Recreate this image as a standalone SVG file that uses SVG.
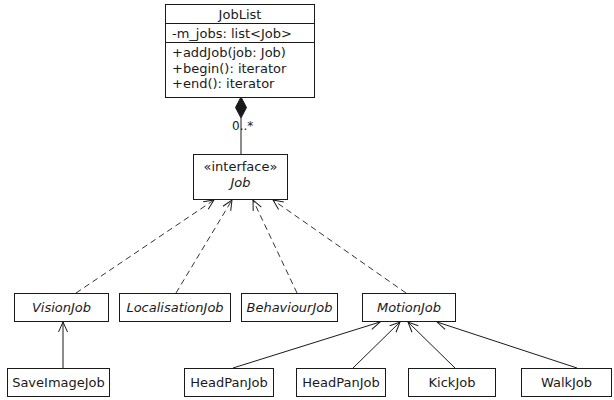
<svg xmlns="http://www.w3.org/2000/svg" width="614" height="400" viewBox="0 0 614 400">
  <style>
    .box { fill: #ffffff; stroke: #1a1a1a; stroke-width: 1; }
    .sep { stroke: #1a1a1a; stroke-width: 1; }
    text { font-family: "DejaVu Sans", "Liberation Sans", sans-serif; font-size: 13px; fill: #1a1a1a; }
    .c { text-anchor: middle; }
    .it { font-style: italic; }
    .edge { fill: none; stroke: #1a1a1a; stroke-width: 1; }
    .dash { stroke-dasharray: 6 4; stroke: #333333; }
  </style>
  <defs>
    <marker id="open" viewBox="0 0 12 12" refX="11" refY="6" markerWidth="12" markerHeight="12" markerUnits="userSpaceOnUse" orient="auto">
      <path d="M1,1.5 L11,6 L1,10.5" fill="none" stroke="#1a1a1a" stroke-width="1" stroke-dasharray="none"/>
    </marker>
  </defs>

  <!-- connectors -->
  <g id="connectors">
    <!-- composition JobList <>- Job -->
    <line class="edge" x1="241" y1="118" x2="241" y2="154"/>
    <polygon points="241,97 246.5,107.5 241,118 235.5,107.5" fill="#1a1a1a" stroke="#1a1a1a"/>
    <text x="232" y="130" style="font-size:12px">0..*</text>

    <!-- realisations of Job -->
    <line class="edge dash" x1="76" y1="293" x2="214" y2="200" marker-end="url(#open)"/>
    <line class="edge dash" x1="176" y1="293" x2="232" y2="200" marker-end="url(#open)"/>
    <line class="edge dash" x1="297" y1="293" x2="253" y2="200" marker-end="url(#open)"/>
    <line class="edge dash" x1="406" y1="293" x2="273" y2="200" marker-end="url(#open)"/>

    <!-- generalisations -->
    <line class="edge" x1="63" y1="368" x2="63" y2="322" marker-end="url(#open)"/>
    <line class="edge" x1="233" y1="368" x2="380" y2="322" marker-end="url(#open)"/>
    <line class="edge" x1="353" y1="368" x2="400" y2="322" marker-end="url(#open)"/>
    <line class="edge" x1="455" y1="368" x2="408" y2="322" marker-end="url(#open)"/>
    <line class="edge" x1="577" y1="368" x2="437" y2="322" marker-end="url(#open)"/>
  </g>

  <!-- JobList class -->
  <g id="JobList">
    <rect class="box" x="165.5" y="4.5" width="149" height="93"/>
    <line class="sep" x1="165.5" y1="23.5" x2="314.5" y2="23.5"/>
    <line class="sep" x1="165.5" y1="42.5" x2="314.5" y2="42.5"/>
    <text class="c" x="240" y="18.5">JobList</text>
    <text x="172" y="37.5">-m_jobs: list&lt;Job&gt;</text>
    <text x="172" y="57">+addJob(job: Job)</text>
    <text x="172" y="72.5">+begin(): iterator</text>
    <text x="172" y="88">+end(): iterator</text>
  </g>

  <!-- Job interface -->
  <g id="Job">
    <rect class="box" x="193.5" y="154.5" width="94" height="45"/>
    <text class="c" x="240.5" y="170.5">«interface»</text>
    <text class="c it" x="240.5" y="187">Job</text>
  </g>

  <!-- second row -->
  <g id="VisionJob">
    <rect class="box" x="14.5" y="293.5" width="94" height="28"/>
    <text class="c it" x="61.5" y="312">VisionJob</text>
  </g>
  <g id="LocalisationJob">
    <rect class="box" x="119.5" y="293.5" width="111" height="28"/>
    <text class="c it" x="175" y="312">LocalisationJob</text>
  </g>
  <g id="BehaviourJob">
    <rect class="box" x="241.5" y="293.5" width="96" height="28"/>
    <text class="c it" x="289.5" y="312">BehaviourJob</text>
  </g>
  <g id="MotionJob">
    <rect class="box" x="362.5" y="293.5" width="93" height="28"/>
    <text class="c it" x="409" y="312">MotionJob</text>
  </g>

  <!-- third row -->
  <g id="SaveImageJob">
    <rect class="box" x="7.5" y="368.5" width="102" height="28"/>
    <text class="c" x="58.5" y="387">SaveImageJob</text>
  </g>
  <g id="HeadPanJob1">
    <rect class="box" x="184.5" y="368.5" width="89" height="28"/>
    <text class="c" x="229" y="387">HeadPanJob</text>
  </g>
  <g id="HeadPanJob2">
    <rect class="box" x="296.5" y="368.5" width="89" height="28"/>
    <text class="c" x="341" y="387">HeadPanJob</text>
  </g>
  <g id="KickJob">
    <rect class="box" x="408.5" y="368.5" width="87" height="28"/>
    <text class="c" x="452" y="387">KickJob</text>
  </g>
  <g id="WalkJob">
    <rect class="box" x="521.5" y="368.5" width="90" height="28"/>
    <text class="c" x="566.5" y="387">WalkJob</text>
  </g>
</svg>
